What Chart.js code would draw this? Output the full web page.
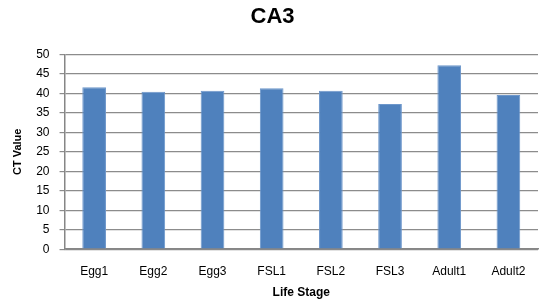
<!DOCTYPE html>
<html>
<head>
<meta charset="utf-8">
<script src="https://cdn.jsdelivr.net/npm/chart.js@4"></script>
<style>
  html, body { margin: 0; padding: 0; background: #fff; }
  #wrap { width: 543px; height: 302px; }
</style>
</head>
<body>
<div id="wrap"><canvas id="grafico"></canvas></div>
<script>
const stages = ['Egg1', 'Egg2', 'Egg3', 'FSL1', 'FSL2', 'FSL3', 'Adult1', 'Adult2'];
const ctValues = [41.6, 40.4, 40.7, 41.3, 40.7, 37.3, 47.2, 39.6];

const ctx = document.getElementById('grafico').getContext('2d');
const font = "'Liberation Sans', Arial, sans-serif";

const chart = new Chart(ctx, {
  type: 'bar',
  data: {
    labels: stages,
    datasets: [
      {
        label: 'CT Value',
        data: ctValues,
        backgroundColor: '#4F81BD',
        borderColor: '#6D97CB',
        borderWidth: 1,
        barPercentage: 0.4,
        categoryPercentage: 1.0
      }
    ]
  },
  options: {
    animation: false,
    responsive: true,
    maintainAspectRatio: false,
    layout: { padding: { top: 0, right: 5, bottom: 0, left: 7 } },
    plugins: {
      legend: { display: false },
      tooltip: { enabled: false },
      title: {
        display: true,
        text: 'CA3',
        color: '#000',
        font: { family: font, size: 22, weight: 'bold' },
        padding: { top: 4, bottom: 24 }
      }
    },
    scales: {
      x: {
        // ticks hidden but their length still pushes the labels down
        grid: { display: false, drawTicks: true, tickLength: 12 },
        border: { color: '#868686', width: 1.5 },
        ticks: { color: '#000', font: { family: font, size: 12 }, padding: 3, maxRotation: 0, minRotation: 0 },
        title: {
          display: true, text: 'Life Stage', color: '#000',
          font: { family: font, size: 12, weight: 'bold' }, padding: { top: 4, bottom: 2 }
        }
      },
      y: {
        min: 0,
        max: 50,
        ticks: { stepSize: 5, color: '#000', font: { family: font, size: 12 }, padding: 10 },
        grid: { color: '#8C8C8C', lineWidth: 1.2, tickLength: 5 },
        border: { color: '#868686', width: 1.5 },
        title: {
          display: true, text: 'CT Value', color: '#000',
          font: { family: font, size: 11, weight: 'bold' }, padding: { bottom: 2 }
        }
      }
    }
  }
});
</script>
</body>
</html>
